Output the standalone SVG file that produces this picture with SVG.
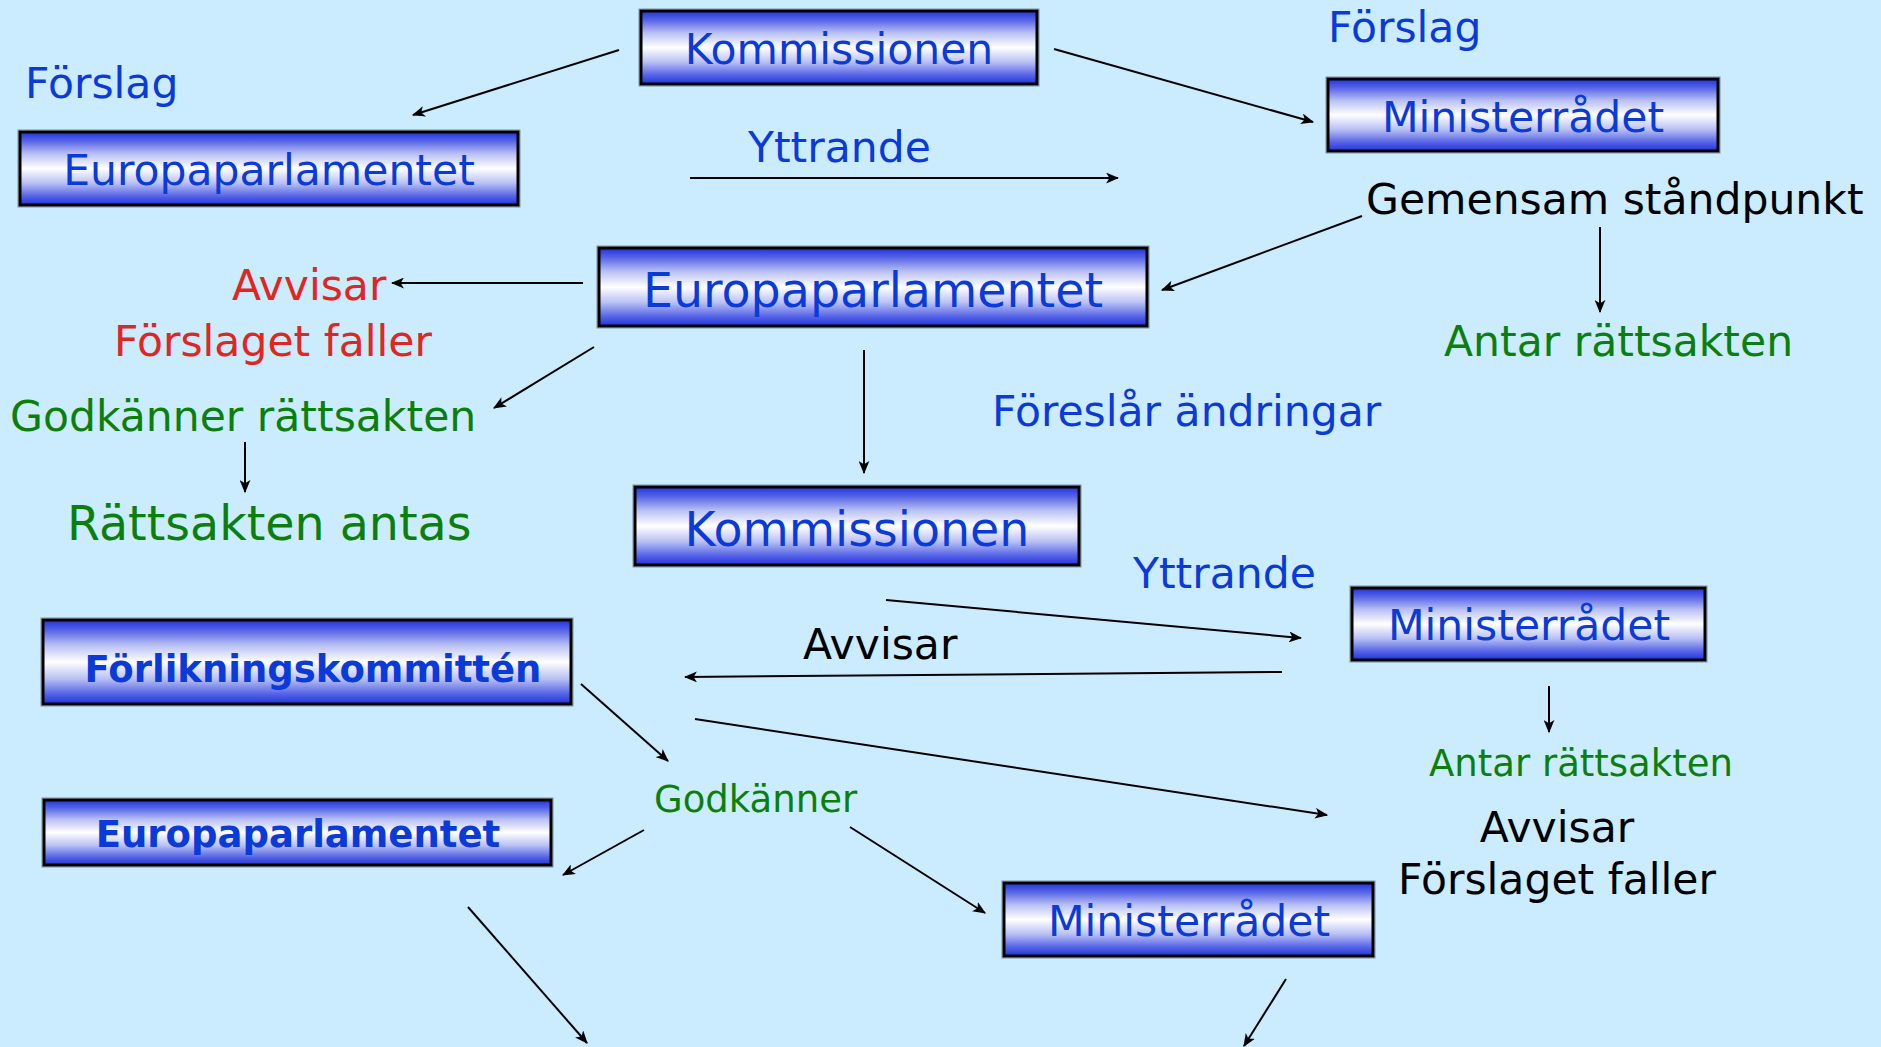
<svg xmlns="http://www.w3.org/2000/svg" width="1881" height="1047" viewBox="0 0 1881 1047">
<defs>
<linearGradient id="boxg" x1="0" y1="0" x2="0" y2="1">
<stop offset="0" stop-color="#2233dd"/>
<stop offset="0.12" stop-color="#5563e6"/>
<stop offset="0.3" stop-color="#b8c0f4"/>
<stop offset="0.5" stop-color="#ffffff"/>
<stop offset="0.7" stop-color="#b8c0f4"/>
<stop offset="0.88" stop-color="#5563e6"/>
<stop offset="1" stop-color="#2233dd"/>
</linearGradient>
<marker id="ah" viewBox="0 0 12 10" refX="11" refY="5" markerWidth="13" markerHeight="11" markerUnits="userSpaceOnUse" orient="auto">
<path d="M0,0 L12,5 L0,10 L3,5 z" fill="#000"/>
</marker>
<style>
.box{fill:url(#boxg);stroke:#000;stroke-width:3}
.edge{fill:none;stroke:#7f93a8;stroke-width:1}
.t{font-family:"DejaVu Sans","Verdana",sans-serif;}
.bt{fill:#0a3ad8;text-anchor:middle}
.bb{fill:#0a3ad8;text-anchor:middle;font-weight:bold}
.blue{fill:#0a3ad8}
.red{fill:#e0261e}
.green{fill:#0a7f0a}
.black{fill:#000}
.c{stroke:#000;stroke-width:2;fill:none;marker-end:url(#ah)}
</style>
</defs>
<rect width="1881" height="1047" fill="#cbebfe"/>

<g id="n-kommissionen1">
<rect class="edge" x="639" y="9" width="400" height="77"/>
<rect class="box" x="641" y="11" width="396" height="73"/>
<text class="t bt" x="839" y="64" font-size="42.5">Kommissionen</text>
</g>
<g id="n-europaparlamentet1">
<rect class="edge" x="18" y="130" width="502" height="77"/>
<rect class="box" x="20" y="132" width="498" height="73"/>
<text class="t bt" x="269" y="185" font-size="42.5">Europaparlamentet</text>
</g>
<g id="n-ministerradet1">
<rect class="edge" x="1326" y="77" width="394" height="76"/>
<rect class="box" x="1328" y="79" width="390" height="72"/>
<text class="t bt" x="1523" y="132" font-size="42.5">Ministerrådet</text>
</g>
<g id="n-europaparlamentet2">
<rect class="edge" x="597" y="246" width="552" height="82"/>
<rect class="box" x="599" y="248" width="548" height="78"/>
<text class="t bt" x="873" y="307" font-size="47.5">Europaparlamentet</text>
</g>
<g id="n-kommissionen2">
<rect class="edge" x="633" y="485" width="448" height="82"/>
<rect class="box" x="635" y="487" width="444" height="78"/>
<text class="t bt" x="857" y="546" font-size="47.5">Kommissionen</text>
</g>
<g id="n-ministerradet2">
<rect class="edge" x="1350" y="586" width="357" height="76"/>
<rect class="box" x="1352" y="588" width="353" height="72"/>
<text class="t bt" x="1529" y="640" font-size="42.5">Ministerrådet</text>
</g>
<g id="n-forlikningskommitten">
<rect class="edge" x="41" y="618" width="532" height="88"/>
<rect class="box" x="43" y="620" width="528" height="84"/>
<text class="t bb" x="313" y="682" font-size="37">Förlikningskommittén</text>
</g>
<g id="n-europaparlamentet3">
<rect class="edge" x="42" y="798" width="511" height="69"/>
<rect class="box" x="44" y="800" width="507" height="65"/>
<text class="t bb" x="298" y="847" font-size="37">Europaparlamentet</text>
</g>
<g id="n-ministerradet3">
<rect class="edge" x="1002" y="881" width="373" height="77"/>
<rect class="box" x="1004" y="883" width="369" height="73"/>
<text class="t bt" x="1189" y="936" font-size="42.5">Ministerrådet</text>
</g>

<g id="labels">
<text class="t blue" x="25" y="98" font-size="42.5">Förslag</text>
<text class="t blue" x="1328" y="42" font-size="42.5">Förslag</text>
<text class="t blue" x="748" y="162" font-size="42.5">Yttrande</text>
<text class="t black" x="1366" y="214" font-size="42.5">Gemensam ståndpunkt</text>
<text class="t green" x="1444" y="356" font-size="42.5">Antar rättsakten</text>
<text class="t red" x="232" y="300" font-size="42.5">Avvisar</text>
<text class="t red" x="114" y="356" font-size="42.5">Förslaget faller</text>
<text class="t green" x="10" y="431" font-size="42.5">Godkänner rättsakten</text>
<text class="t green" x="67" y="540" font-size="47.5">Rättsakten antas</text>
<text class="t blue" x="992" y="426" font-size="42.5">Föreslår ändringar</text>
<text class="t blue" x="1133" y="588" font-size="42.5">Yttrande</text>
<text class="t black" x="803" y="659" font-size="42.5">Avvisar</text>
<text class="t green" x="1429" y="776" font-size="37">Antar rättsakten</text>
<text class="t black" x="1557" y="842" font-size="42.5" text-anchor="middle">Avvisar</text>
<text class="t black" x="1557" y="894" font-size="42.5" text-anchor="middle">Förslaget faller</text>
<text class="t green" x="654" y="812" font-size="37">Godkänner</text>
</g>

<g id="connectors">
<line class="c" x1="619" y1="50" x2="413" y2="115"/>
<line class="c" x1="1054" y1="49" x2="1313" y2="122"/>
<line class="c" x1="690" y1="178" x2="1118" y2="178"/>
<line class="c" x1="1362" y1="216" x2="1162" y2="290"/>
<line class="c" x1="1600" y1="227" x2="1600" y2="312"/>
<line class="c" x1="583" y1="283" x2="392" y2="283"/>
<line class="c" x1="594" y1="347" x2="494" y2="408"/>
<line class="c" x1="245" y1="442" x2="245" y2="492"/>
<line class="c" x1="864" y1="350" x2="864" y2="473"/>
<line class="c" x1="886" y1="600" x2="1301" y2="638"/>
<line class="c" x1="1282" y1="672" x2="685" y2="677"/>
<line class="c" x1="1549" y1="686" x2="1549" y2="732"/>
<line class="c" x1="695" y1="719" x2="1327" y2="815"/>
<line class="c" x1="581" y1="684" x2="668" y2="761"/>
<line class="c" x1="644" y1="830" x2="563" y2="875"/>
<line class="c" x1="850" y1="827" x2="985" y2="913"/>
<line class="c" x1="468" y1="907" x2="587" y2="1043"/>
<line class="c" x1="1286" y1="979" x2="1244" y2="1046"/>
</g>
</svg>
